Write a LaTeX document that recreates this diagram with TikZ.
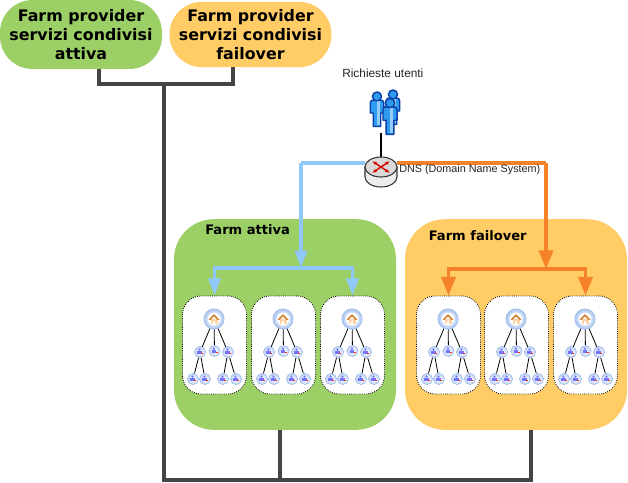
\documentclass[tikz,border=0pt]{standalone}
\usepackage{fontspec}
\setmainfont{DejaVu Sans}
\newfontfamily\labelfont{Liberation Sans}
\usetikzlibrary{arrows.meta,shapes.geometric,calc}
\definecolor{farmgreen}{HTML}{9CCF65}
\definecolor{farmorange}{HTML}{FFCC66}
\definecolor{linkblue}{HTML}{90C8FA}
\definecolor{linkorange}{HTML}{F58228}
\definecolor{trunk}{HTML}{444444}
\definecolor{iconblue}{HTML}{7FA6E6}
\definecolor{userblue}{HTML}{2E9BF0}
\definecolor{userdark}{HTML}{0A3FA8}
\tikzset{
  x=0.75pt,y=-0.75pt,
  pill/.style={rounded corners=32.5*0.75pt,inner sep=0pt,align=center,font=\bfseries\fontsize{11.9}{14.3}\selectfont},
  panel/.style={rounded corners=30pt,inner sep=0pt},
  paneltitle/.style={font=\bfseries\fontsize{9.8}{12}\selectfont,inner sep=0pt},
  trunkline/.style={draw=trunk,line width=2.4pt},
  bluelink/.style={draw=linkblue,line width=2.7pt},
  orangelink/.style={draw=linkorange,line width=2.7pt},
  bluetip/.style={-{Triangle[length=13pt,width=9pt]}},
  orangetip/.style={-{Triangle[length=14pt,width=10.5pt]}},
  treebox/.style={draw=black,densely dotted,line width=0.6pt,fill=white,rounded corners=14pt,
    minimum width=48pt,minimum height=73.5pt,inner sep=0pt},
  rootball/.style={circle,minimum size=15pt,inner sep=0pt,draw=iconblue!70,line width=0.8pt,inner color=white,outer color=iconblue!60},
  leafball/.style={circle,minimum size=8.4pt,inner sep=0pt,draw=iconblue!80,line width=0.4pt,inner color=white,outer color=iconblue!50},
  treeedge/.style={draw=black,line width=0.6pt},
  caption/.style={font=\labelfont,inner sep=0pt,text=black!85},
}
% small person mark drawn over a leaf ball
\newcommand{\leafmark}[1]{%
  \fill[blue!55!white] ($(#1)+(-0.5,-2.4)$) circle (1.2);
  \fill[blue!55!white] ($(#1)+(-2.6,2)$) rectangle ($(#1)+(1.6,-0.8)$);
  \fill[red!70!orange] ($(#1)+(1,0.8)$) rectangle ($(#1)+(3,2.4)$);
}
% one farm tree: #1 centre x of the box, #2 node-name prefix
\newcommand{\farmtree}[2]{%
  \node[treebox] (#2box) at (#1+0.5,345) {};
  \draw[treeedge] (#1,319) -- (#1-14,352);
  \draw[treeedge] (#1,319) -- (#1+0.5,351);
  \draw[treeedge] (#1,319) -- (#1+14,352);
  \node[rootball] (#2r) at (#1,319) {};
  \fill[white] (#2r) circle (6.5);
  \fill[orange!35!white] ($(#2r)+(-3.5,0)$) rectangle ($(#2r)+(3.5,4.5)$);
  \fill[white] ($(#2r)+(-1.2,1.5)$) rectangle ($(#2r)+(1.2,4.5)$);
  \fill[brown!75!orange] ($(#2r)+(-5.5,0.8)$) -- ($(#2r)+(0,-5)$) -- ($(#2r)+(5.5,0.8)$) -- ($(#2r)+(3.5,0.8)$) -- ($(#2r)+(0,-2.6)$) -- ($(#2r)+(-3.5,0.8)$) -- cycle;
  \node[leafball] (#2a) at (#1-14,352) {};
  \node[leafball] (#2b) at (#1+0.5,351) {};
  \node[leafball] (#2c) at (#1+14,352) {};
  \node[leafball] (#2d) at (#1-21,379) {};
  \node[leafball] (#2e) at (#1-9,379) {};
  \node[leafball] (#2f) at (#1+9,379) {};
  \node[leafball] (#2g) at (#1+22,379) {};
  \draw[treeedge] (#2a) -- (#2d);
  \draw[treeedge] (#2a) -- (#2e);
  \draw[treeedge] (#2c) -- (#2f);
  \draw[treeedge] (#2c) -- (#2g);
  \foreach \leaf in {a,b,c,d,e,f,g} {\leafmark{#2\leaf}}
}
% standing user figure
\newcommand{\userfigure}[3]{%
  \begin{scope}[shift={(#1,#2)},scale=#3]
    \fill[userblue,draw=userdark,line width=1.1pt,line join=round]
      (-7,-9) -- (7,-9) -- (9,-6) -- (9,8) -- (5,8) -- (5,26) -- (-5,26) -- (-5,8) -- (-9,8) -- (-9,-6) -- cycle;
    \fill[userblue,draw=userdark,line width=1.1pt] (0,-14) circle (6);
    \fill[white,opacity=0.5] (-0.5,-8) rectangle (4,24);
  \end{scope}
}
\begin{document}
\begin{tikzpicture}
\useasboundingbox (0,0) rectangle (628,482);
\fill[white] (0,0) rectangle (628,482);

% backbone behind the farms
\coordinate (joinTop) at (164,84);
\coordinate (baseL) at (164,480);
\coordinate (baseM) at (280,480);
\coordinate (baseR) at (531,480);

\node[panel,fill=farmgreen,minimum width=166.5pt,minimum height=158pt] (active) at (285,324.5) {};
\node[panel,fill=farmorange,minimum width=166.5pt,minimum height=158pt] (failover) at (516,324.5) {};

\node[pill,fill=farmgreen,minimum width=121.5pt,minimum height=51.7pt] (provA) at (81,34.5) {Farm provider\\servizi condivisi\\attiva};
\node[pill,fill=farmorange,minimum width=121.5pt,minimum height=49pt] (provF) at (250.5,34.5) {Farm provider\\servizi condivisi\\failover};

\draw[trunkline] (provA.south -| 99,0) -- (99,84) -- (233,84) -- (provF.south -| 233,0);
\draw[trunkline] (joinTop) -- (baseL) -- (baseR) -- (failover.south -| baseR);
\draw[trunkline] (active.south -| baseM) -- (baseM);

\node[paneltitle,anchor=west] (titleA) at (205,230) {Farm attiva};
\node[paneltitle,anchor=west] (titleF) at (428.5,235.5) {Farm failover};

\farmtree{214}{aa}
\farmtree{283}{ab}
\farmtree{352}{ac}
\farmtree{448}{fa}
\farmtree{516}{fb}
\farmtree{585}{fc}

% users and DNS router
\node[caption,anchor=west,font=\labelfont\fontsize{8.9}{10}\selectfont] (users) at (342,73) {Richieste utenti};
\node[minimum width=24pt,minimum height=30pt,inner sep=0pt] (crowd) at (391,113) {};
\userfigure{377}{107}{0.75}
\userfigure{393}{105}{0.75}
\userfigure{390}{114}{0.78}
\node[ellipse,minimum width=24pt,minimum height=22pt,inner sep=0pt] (router) at (381,172) {};

% links from the router down to the farms
\coordinate (blueBend) at (301,163);
\coordinate (blueJoin) at (301,268);
\coordinate (orangeBend) at (546,163);
\coordinate (orangeJoin) at (546,269);
\draw[bluelink] (router.west |- blueBend) -- (blueBend);
\draw[bluelink,bluetip] (blueBend) -- (blueJoin);
\draw[bluelink,bluetip] (blueJoin) -| (aabox.north);
\draw[bluelink,bluetip] (blueJoin) -| (acbox.north);
\draw[orangelink] (router.east |- orangeBend) -- (orangeBend);
\draw[orangelink,orangetip] (orangeBend) -- (orangeJoin);
\draw[orangelink,orangetip] (orangeJoin) -| (fabox.north);
\draw[orangelink,orangetip] (orangeJoin) -| (fcbox.north);

\draw[black,line width=1.2pt] (crowd.south -| router.north) -- (router.north);

% router body
\fill[gray!15,draw=black!80,line width=0.8pt] (365,167) -- (365,177) arc[start angle=180,end angle=0,x radius=16,y radius=10] -- (397,167) -- cycle;
\fill[gray!30,draw=black!80,line width=0.8pt] (381,167) ellipse (16 and 10);
\draw[red!85!black,line width=1.1pt,{Latex[length=3.5pt]}-{Latex[length=3.5pt]}] (372,161) -- (390,173);
\draw[red!85!black,line width=1.1pt,{Latex[length=3.5pt]}-{Latex[length=3.5pt]}] (372,173) -- (390,161);

\node[caption,anchor=west,font=\labelfont\fontsize{8.1}{10}\selectfont] (dns) at (399,170) {DNS (Domain Name System)};
\end{tikzpicture}
\end{document}
